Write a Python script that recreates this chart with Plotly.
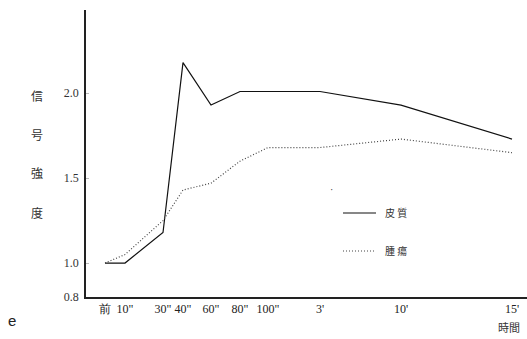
import plotly.graph_objects as go

# Category tick labels and their (non-uniform) positions on the time axis
time_labels = ["前", "10\"", "30\"", "40\"", "60\"", "80\"", "100\"", "3'", "10'", "15'"]
time_pos = [0, 1, 2.9, 3.9, 5.3, 6.75, 8.15, 10.75, 14.8, 20.35]

# Series values (signal intensity)
cortex = [1.0, 1.0, 1.18, 2.18, 1.93, 2.01, 2.01, 2.01, 1.93, 1.73]   # 皮質 (solid)
tumor = [1.0, 1.05, 1.25, 1.43, 1.47, 1.60, 1.68, 1.68, 1.73, 1.65]   # 腫瘍 (dotted)

y_ticks = [0.8, 1.0, 1.5, 2.0]
y_ticktext = ["0.8", "1.0", "1.5", "2.0"]

serif = "Liberation Serif, DejaVu Serif, serif"
cjk = "Noto Sans CJK JP, Noto Sans CJK SC, sans-serif"
dot = "1px,2px"

fig = go.Figure()
fig.add_trace(go.Scatter(x=time_pos, y=cortex, mode="lines", name="皮質",
                         line=dict(color="#111111", width=1.2), showlegend=False))
fig.add_trace(go.Scatter(x=time_pos, y=tumor, mode="lines", name="腫瘍",
                         line=dict(color="#444444", width=1.2, dash=dot), showlegend=False))

fig.update_layout(
    width=527, height=339,
    margin=dict(l=86, r=0, t=10, b=42, autoexpand=False),
    paper_bgcolor="white", plot_bgcolor="white",
    xaxis=dict(range=[-0.95, 21.1], tickmode="array", tickvals=time_pos, ticktext=time_labels,
               showgrid=False, zeroline=False, showline=True, linecolor="#222222", linewidth=2,
               ticks="", automargin=False,
               tickfont=dict(family=serif, size=12, color="#222222")),
    yaxis=dict(range=[0.8, 2.49], tickmode="array", tickvals=y_ticks, ticktext=y_ticktext,
               showgrid=False, zeroline=False, showline=True, linecolor="#222222", linewidth=1.5,
               ticks="inside", ticklen=3, tickcolor="#bbbbbb", ticklabelstandoff=3,
               automargin=False, tickfont=dict(family=serif, size=12, color="#333333")),
)

def px_x(p):
    return (p - 86) / 441

def px_y(p):
    return 1 - (p - 10) / 287

# Y-axis title: vertical characters
for ch, yp in zip(["信", "号", "強", "度"], [95, 134, 172, 212]):
    fig.add_annotation(text=ch, xref="paper", yref="paper", x=px_x(37), y=px_y(yp),
                       showarrow=False, xanchor="center", yanchor="middle",
                       font=dict(family=cjk, size=12, color="#333333"))

# X-axis title
fig.add_annotation(text="時間", xref="paper", yref="paper", x=px_x(522), y=px_y(327),
                   showarrow=False, xanchor="right", yanchor="middle",
                   font=dict(family=cjk, size=11, color="#333333"))

# Panel letter
fig.add_annotation(text="e", xref="paper", yref="paper", x=px_x(12), y=px_y(320),
                   showarrow=False, xanchor="center", yanchor="middle",
                   font=dict(family="Liberation Sans, Arial, sans-serif", size=15, color="#222222"))

# Legend (drawn manually)
fig.add_shape(type="line", xref="paper", yref="paper", x0=px_x(343), x1=px_x(376),
              y0=px_y(213), y1=px_y(213), line=dict(color="#111111", width=1.2))
fig.add_shape(type="line", xref="paper", yref="paper", x0=px_x(343), x1=px_x(376),
              y0=px_y(251), y1=px_y(251), line=dict(color="#444444", width=1.2, dash=dot))
fig.add_annotation(text="皮 質", xref="paper", yref="paper", x=px_x(383), y=px_y(212),
                   showarrow=False, xanchor="left", yanchor="middle",
                   font=dict(family=cjk, size=10, color="#333333"))
fig.add_annotation(text="腫 瘍", xref="paper", yref="paper", x=px_x(383), y=px_y(250),
                   showarrow=False, xanchor="left", yanchor="middle",
                   font=dict(family=cjk, size=10, color="#333333"))
fig.add_annotation(text="·", xref="paper", yref="paper", x=px_x(331), y=px_y(189),
                   showarrow=False, xanchor="center", yanchor="middle",
                   font=dict(family=serif, size=10, color="#333333"))

fig.write_html("out.html", config={"displayModeBar": False},
               post_script="document.body.style.margin='0px';document.body.style.overflow='hidden';")
